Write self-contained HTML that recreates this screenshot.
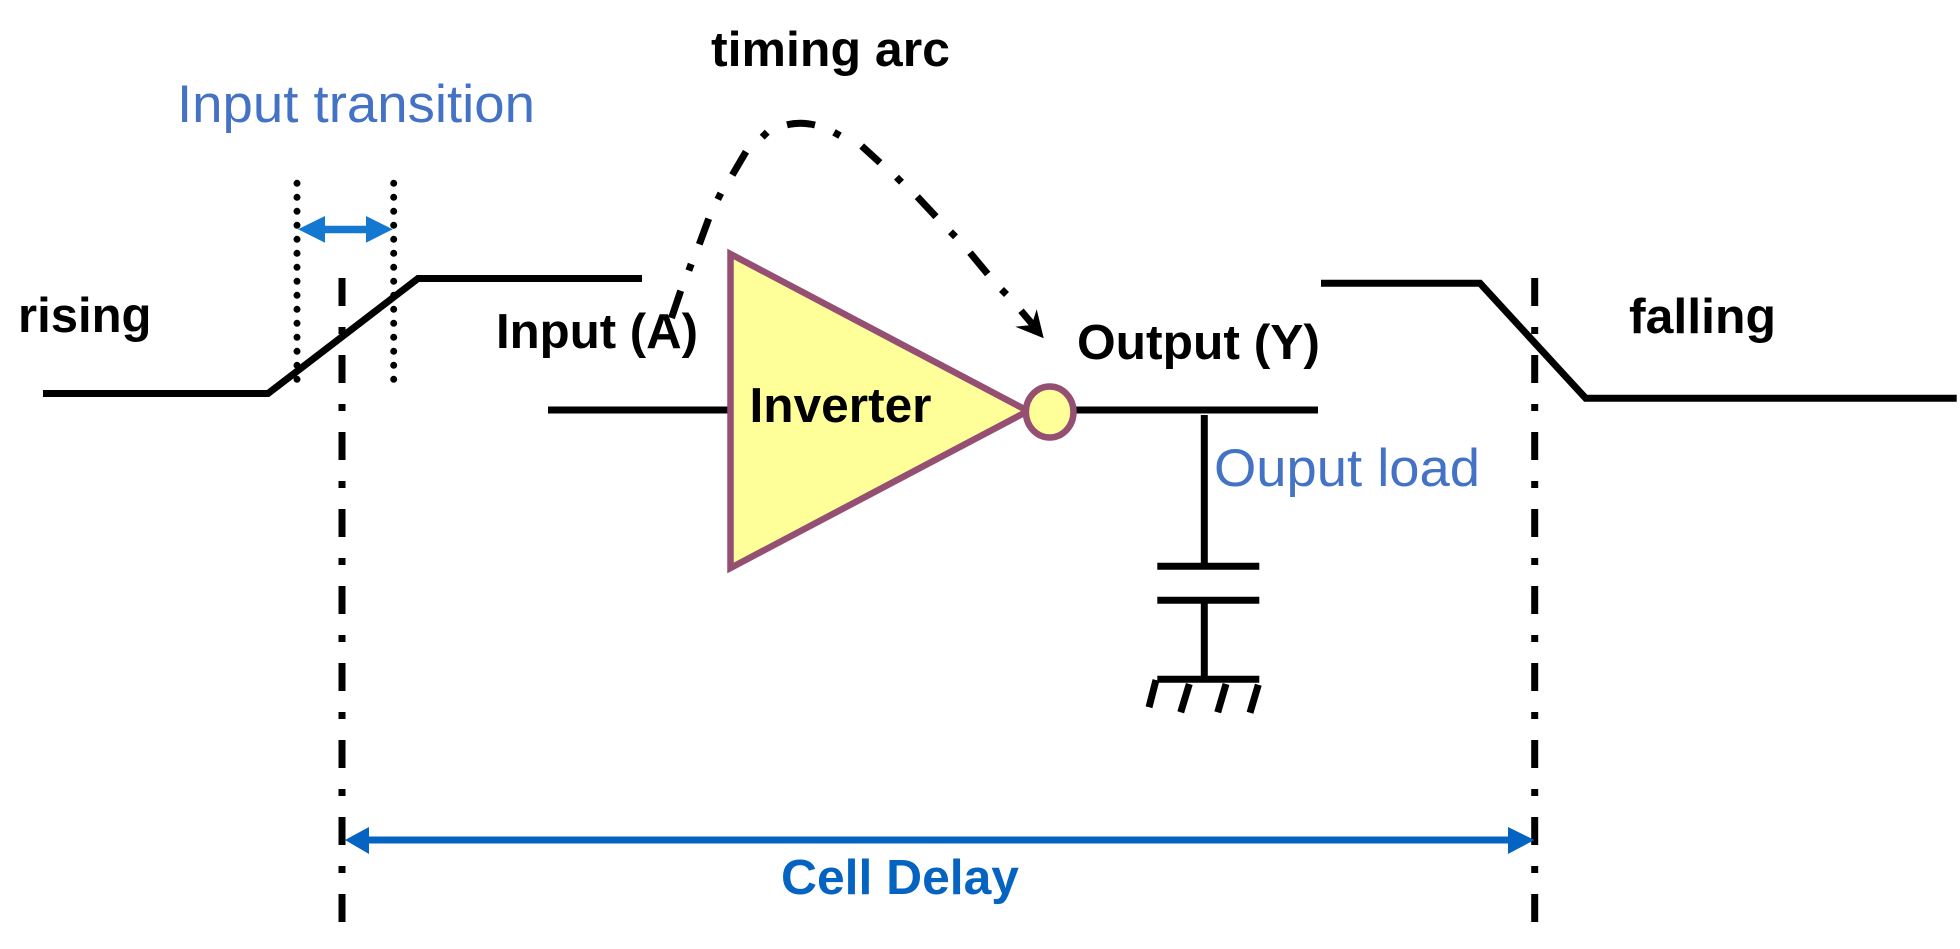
<!DOCTYPE html>
<html>
<head>
<meta charset="utf-8">
<style>
html,body{margin:0;padding:0;background:#fff;width:1960px;height:949px;overflow:hidden}
svg{display:block}
text{font-family:"Liberation Sans",Arial,sans-serif}
.b{font-weight:bold;font-size:49px;fill:#000}
.r{font-size:53px;fill:#4472c4}
</style>
</head>
<body>
<svg width="1960" height="949" viewBox="0 0 1960 949" xmlns="http://www.w3.org/2000/svg">
<rect width="1960" height="949" fill="#fff"/>

<!-- dash-dot verticals -->
<g stroke="#000" stroke-width="7" fill="none" stroke-dasharray="28 21 7 21">
  <line x1="342" y1="278" x2="342" y2="922"/>
  <line x1="1534.7" y1="278" x2="1534.7" y2="922"/>
</g>

<!-- dotted lines -->
<g stroke="#000" stroke-width="7" fill="none" stroke-linecap="round" stroke-dasharray="0 14">
  <line x1="297" y1="183.3" x2="297" y2="381"/>
  <line x1="393.7" y1="183.3" x2="393.7" y2="381"/>
</g>

<!-- waveforms -->
<g stroke="#000" stroke-width="7" fill="none" stroke-linejoin="miter">
  <polyline points="43,393.5 268,393.5 418,278.5 642,278.5"/>
  <polyline points="1321,283.3 1480,283.3 1585.7,398.3 1956.7,398.3"/>
  <line x1="548" y1="410" x2="731" y2="410"/>
  <line x1="1075" y1="410" x2="1318" y2="410"/>
  <line x1="1204.3" y1="415" x2="1204.3" y2="564"/>
  <line x1="1157.3" y1="566.3" x2="1259.3" y2="566.3"/>
  <line x1="1157.3" y1="600.3" x2="1259.3" y2="600.3"/>
  <line x1="1204.3" y1="600" x2="1204.3" y2="679"/>
  <line x1="1157.3" y1="679.3" x2="1259.3" y2="679.3"/>
</g>
<g stroke="#000" stroke-width="7" fill="none">
  <line x1="1156" y1="680" x2="1149" y2="707.3"/>
  <line x1="1189.3" y1="684" x2="1180.7" y2="712.3"/>
  <line x1="1226" y1="684" x2="1217.7" y2="712.3"/>
  <line x1="1258.3" y1="684.7" x2="1250" y2="712.7"/>
</g>

<!-- blue arrows -->
<line x1="320" y1="229.5" x2="370" y2="229.5" stroke="#1478d0" stroke-width="7.5"/>
<polygon points="298,229.3 325,216 325,242.7" fill="#1478d0"/>
<polygon points="392.7,229.3 366,216 366,242.7" fill="#1478d0"/>
<line x1="365" y1="840" x2="1512" y2="840" stroke="#0563c1" stroke-width="7"/>
<polygon points="345,840 369,827 369,854" fill="#0563c1"/>
<polygon points="1534.5,840 1508,827 1508,854" fill="#0563c1"/>

<!-- inverter -->
<polygon points="730.5,254 1028,411 730.5,568" fill="#ffff99" stroke="#954f72" stroke-width="6.5" stroke-linejoin="miter" stroke-miterlimit="10"/>
<ellipse cx="1049.7" cy="412" rx="23.8" ry="25.5" fill="#ffff99" stroke="#954f72" stroke-width="6.5"/>

<!-- labels -->
<text class="r" x="177" y="122" textLength="358" lengthAdjust="spacingAndGlyphs">Input transition</text>
<text class="b" x="18" y="332" textLength="133.5" lengthAdjust="spacingAndGlyphs">rising</text>
<text class="b" x="496" y="348" textLength="202" lengthAdjust="spacingAndGlyphs">Input (A)</text>
<text class="b" x="711" y="66" textLength="239" lengthAdjust="spacingAndGlyphs">timing arc</text>
<text class="b" x="1077" y="359" textLength="243" lengthAdjust="spacingAndGlyphs">Output (Y)</text>
<text class="b" x="749.5" y="422" textLength="182" lengthAdjust="spacingAndGlyphs">Inverter</text>
<text class="b" x="1629" y="333" textLength="147" lengthAdjust="spacingAndGlyphs">falling</text>
<text class="r" x="1214" y="486" textLength="266" lengthAdjust="spacingAndGlyphs">Ouput load</text>
<text class="b" x="781" y="894" textLength="238" lengthAdjust="spacingAndGlyphs" style="fill:#0563c1">Cell Delay</text>

<!-- timing arc dash-dot -->
<g stroke="#000" stroke-width="7" fill="none">
  <line x1="671.5" y1="318" x2="680.7" y2="290.7"/>
  <line x1="688.8" y1="270.6" x2="691.2" y2="264"/>
  <line x1="699.3" y1="244.3" x2="708.7" y2="218.7"/>
  <line x1="717.8" y1="199.4" x2="720.8" y2="193.2"/>
  <line x1="732.3" y1="175" x2="746" y2="151.7"/>
  <line x1="762.2" y1="137.2" x2="767.2" y2="132.2"/>
  <path d="M787,124.8 Q800.5,121.5 815,125"/>
  <line x1="834" y1="132.3" x2="840" y2="135.7"/>
  <line x1="861.7" y1="146" x2="880" y2="162.7"/>
  <line x1="896.5" y1="177.2" x2="901.5" y2="182.2"/>
  <line x1="917.3" y1="196.7" x2="936" y2="216.7"/>
  <line x1="950.5" y1="231.8" x2="955.5" y2="236.8"/>
  <line x1="970" y1="252.7" x2="987.7" y2="274"/>
  <line x1="1001.5" y1="289.5" x2="1006.5" y2="294.5"/>
  <line x1="1021" y1="310.7" x2="1033" y2="325"/>
</g>
<polygon points="1043.7,338.3 1036.7,309.3 1031.7,325 1015.3,326.7" fill="#000"/>
</svg>
</body>
</html>
